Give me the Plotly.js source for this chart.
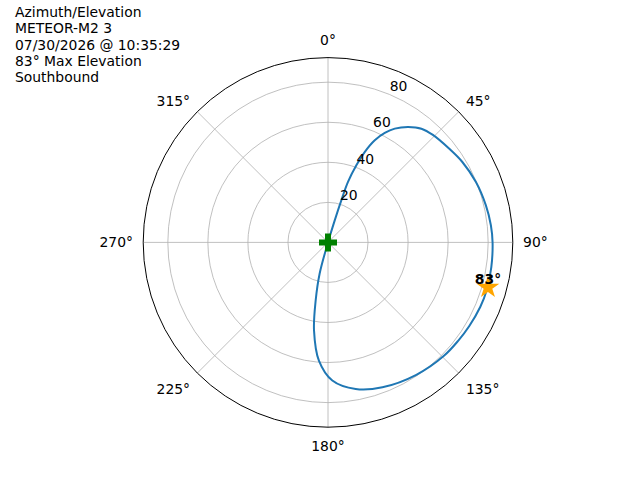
<!DOCTYPE html>
<html>
<head>
<meta charset="utf-8">
<script src="https://cdn.plot.ly/plotly-3.0.1.min.js"></script>
<style>
  body { margin: 0; }
  #graph { width: 640px; height: 480px; }
</style>
</head>
<body>
<div id="graph"></div>
<script>
// pass track: azimuth (deg) and elevation (deg, plotted as radius)
var azimuth = [17, 17, 17.6, 18.3, 20.2, 22.1, 24.6, 27.4, 30.4, 34.8, 39.4, 44.3, 52.2, 59.1,
               67.8, 76.8, 84, 90, 98.6, 106.8, 113, 120.6, 127, 134.5, 146.3, 159.4, 169.3,
               178.2, 184.4, 189, 192, 195, 193];
var elevation = [0, 11.5, 22, 31.8, 41, 48.7, 56.1, 61.6, 65.9, 70.2, 73.5, 75, 76.5, 78.2,
                 79.8, 81, 81.8, 82.2, 82.5, 82.8, 82.6, 82, 81.5, 81, 79.5, 77.3, 74.5,
                 69, 59.2, 44.6, 29.6, 16.2, 0];

var maxAz = [105.7];
var maxEl = [83];
var maxLabel = ['83°'];

var startAz = [0];
var startEl = [0];

var angleTicks = [0, 45, 90, 135, 180, 225, 270, 315];
var radialTicks = [20, 40, 60, 80];

var titleLines = ['Azimuth/Elevation', 'METEOR-M2 3', '07/30/2026 @ 10:35:29',
                  '83° Max Elevation', 'Southbound'];

var font = 'DejaVu Sans, sans-serif';
var fsize = 13.9;

var traces = [
    {
        type: 'scatterpolar',
        r: elevation,
        theta: azimuth,
        mode: 'lines',
        line: {color: '#1f77b4', width: 2, shape: 'spline', smoothing: 1},
        hoverinfo: 'skip'
    },
    {
        // radial tick labels, drawn like matplotlib's at 22.5 deg, just past each ring
        type: 'scatterpolar',
        r: radialTicks.map(function(v) { return v + 5; }),
        theta: radialTicks.map(function() { return 24.5; }),
        mode: 'text',
        text: radialTicks.map(String),
        textposition: 'middle center',
        textfont: {family: font, size: fsize, color: 'black'},
        hoverinfo: 'skip'
    },
    {
        type: 'scatterpolar',
        r: maxEl,
        theta: maxAz,
        mode: 'markers',
        marker: {symbol: 'star', size: 17, color: 'orange'},
        hoverinfo: 'skip'
    },
    {
        type: 'scatterpolar',
        r: maxEl,
        theta: maxAz,
        mode: 'text',
        text: maxLabel,
        textposition: 'top center',
        textfont: {family: font, size: fsize, color: 'black', weight: 'bold'},
        hoverinfo: 'skip'
    },
    {
        type: 'scatterpolar',
        r: startEl,
        theta: startAz,
        mode: 'markers',
        marker: {symbol: 'cross', size: 15, color: 'green'},
        hoverinfo: 'skip'
    }
];

var annotations = titleLines.map(function(line, i) {
    return {
        text: line,
        xref: 'paper', yref: 'paper',
        x: 13 / 640,
        y: 1 - (12 + i * 16.25) / 480,
        xanchor: 'left', yanchor: 'middle',
        showarrow: false,
        font: {family: font, size: fsize, color: 'black'}
    };
});

var layout = {
    width: 640,
    height: 480,
    margin: {l: 0, r: 0, t: 0, b: 0},
    paper_bgcolor: 'white',
    showlegend: false,
    font: {family: font, size: fsize, color: 'black'},
    annotations: annotations,
    polar: {
        domain: {x: [80 / 640, 576 / 640], y: [0.11, 0.88]},
        bgcolor: 'white',
        angularaxis: {
            rotation: 90,
            direction: 'clockwise',
            tickvals: angleTicks,
            ticktext: angleTicks.map(function(a) { return a + '°'; }),
            ticks: 'outside',
            ticklen: 7,
            tickcolor: 'rgba(0,0,0,0)',
            showline: true,
            linecolor: 'black',
            linewidth: 1,
            gridcolor: '#b0b0b0',
            gridwidth: 0.8,
            tickfont: {family: font, size: fsize, color: 'black'}
        },
        radialaxis: {
            range: [0, 92.3],
            tickvals: radialTicks,
            showticklabels: false,
            showline: false,
            ticks: '',
            gridcolor: '#b0b0b0',
            gridwidth: 0.8
        }
    }
};

Plotly.newPlot('graph', traces, layout, {staticPlot: true});
</script>
</body>
</html>
